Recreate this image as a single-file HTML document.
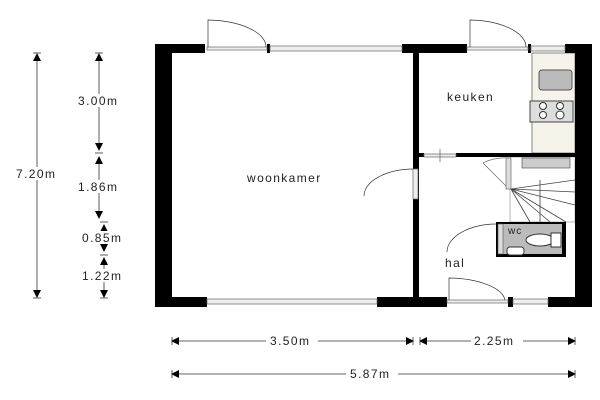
<!DOCTYPE html>
<html><head><meta charset="utf-8"><style>
html,body{margin:0;padding:0;background:#fff;width:600px;height:400px;overflow:hidden}
text{font-family:"Liberation Sans",sans-serif;font-size:12px;letter-spacing:1.4px;fill:#222}
</style></head><body>
<svg width="600" height="400" viewBox="0 0 600 400" xmlns="http://www.w3.org/2000/svg">
<defs>
<marker id="ae" markerWidth="8" markerHeight="8" refX="7" refY="4" orient="auto" markerUnits="userSpaceOnUse"><path d="M0,0 L8,4 L0,8 Z" fill="#000"/></marker>
<marker id="as" markerWidth="8" markerHeight="8" refX="1" refY="4" orient="auto" markerUnits="userSpaceOnUse"><path d="M8,0 L0,4 L8,8 Z" fill="#000"/></marker>
</defs>
<rect x="532" y="53" width="43" height="100" fill="#f6f3ea" stroke="#555" stroke-width="0.7"/>
<rect x="539" y="70" width="33" height="20" rx="3" fill="#bbb" stroke="#555"/>
<rect x="530" y="101" width="43" height="21" fill="#ddd" stroke="#444"/>
<circle cx="543" cy="106" r="3.5" fill="#fff" stroke="#333"/><circle cx="560" cy="106" r="3.5" fill="#fff" stroke="#333"/>
<circle cx="543" cy="115" r="3.5" fill="#fff" stroke="#333"/><circle cx="560" cy="115" r="4" fill="#fff" stroke="#333"/>
<rect x="510" y="157" width="65" height="65" fill="#fff" stroke="#888" stroke-width="0.6"/>
<rect x="522" y="158" width="48" height="10" fill="#ccc" stroke="#444" stroke-width="0.6"/>
<g stroke="#444" stroke-width="0.8">
<line x1="511" y1="189" x2="575" y2="180"/><line x1="511" y1="189" x2="575" y2="192"/><line x1="511" y1="189" x2="575" y2="205"/>
<line x1="511" y1="189" x2="566" y2="222"/><line x1="511" y1="189" x2="550" y2="222"/><line x1="511" y1="189" x2="530" y2="222"/>
<line x1="540" y1="180" x2="540" y2="222"/></g>
<path d="M483,163 L509,189 M483,163 Q495,157 509,158" fill="none" stroke="#555" stroke-width="0.6"/>
<rect x="506" y="158" width="5" height="31" fill="#ddd" stroke="#555" stroke-width="0.6"/>
<rect x="496" y="222" width="70" height="35" fill="#000"/>
<rect x="499" y="224" width="63" height="30" fill="#bbb"/>
<ellipse cx="540" cy="240" rx="14" ry="6" fill="#fff" stroke="#333"/>
<rect x="551" y="233" width="10" height="14" fill="#fff" stroke="#333"/>
<rect x="507" y="247" width="17" height="8" rx="3" fill="#fff" stroke="#333"/>
<rect x="498" y="224" width="5" height="30" fill="#ddd" stroke="#555" stroke-width="0.6"/>
<text x="508" y="234" style="font-size:10px;letter-spacing:1px">wc</text>
<g fill="#000">
<rect x="155" y="44" width="17" height="263"/>
<rect x="155" y="44" width="50" height="9"/>
<rect x="402" y="44" width="65" height="9"/>
<rect x="565" y="44" width="27" height="9"/>
<rect x="575" y="44" width="17" height="263"/>
<rect x="413" y="44" width="6" height="263"/>
<rect x="419" y="153" width="5" height="4"/>
<rect x="456" y="153" width="119" height="4"/>
<rect x="155" y="297" width="52" height="10"/>
<rect x="377" y="297" width="70" height="10"/>
<rect x="508" y="297" width="5" height="10"/>
<rect x="548" y="297" width="44" height="10"/>
<rect x="267" y="44" width="3" height="9"/>
<rect x="528" y="44" width="3" height="9"/>
</g>
<g fill="#eee" stroke="#666" stroke-width="0.7">
<rect x="270" y="46" width="132" height="5"/>
<rect x="531" y="46" width="34" height="5"/>
<rect x="207" y="299" width="170" height="5"/>
<rect x="513" y="299" width="35" height="5"/>
<rect x="424" y="154" width="32" height="3"/>
<rect x="207" y="47" width="60" height="3"/>
<rect x="467" y="47" width="61" height="3"/>
<rect x="447" y="300" width="61" height="3"/>
<rect x="413" y="169" width="5" height="30"/>
</g>
<line x1="440" y1="149" x2="440" y2="162" stroke="#444" stroke-width="0.6"/>
<g fill="none" stroke="#333" stroke-width="0.7">
<path d="M208,47 L208,20 A60,27 0 0 1 266,47"/>
<path d="M470,47 L470,20 A58,27 0 0 1 526,47"/>
<path d="M449,300 L449,278 A58,24 0 0 1 505,300"/>
<path d="M364,196 A50,27 0 0 1 413,169"/>
<path d="M447,252 A50,28 0 0 1 496,224"/>
</g>
<text x="247" y="182">woonkamer</text>
<text x="447" y="101">keuken</text>
<text x="445" y="267">hal</text>
<g stroke="#333" stroke-width="0.8">
<line x1="37" y1="54" x2="37" y2="297" marker-start="url(#as)" marker-end="url(#ae)"/>
<line x1="99" y1="54" x2="99" y2="150" marker-start="url(#as)" marker-end="url(#ae)"/>
<line x1="99" y1="157" x2="99" y2="218" marker-start="url(#as)" marker-end="url(#ae)"/>
<line x1="104" y1="225" x2="104" y2="251" marker-start="url(#as)" marker-end="url(#ae)"/>
<line x1="104" y1="258" x2="104" y2="297" marker-start="url(#as)" marker-end="url(#ae)"/>
<line x1="33" y1="53" x2="41" y2="53"/><line x1="33" y1="298" x2="41" y2="298"/>
<line x1="95" y1="53" x2="103" y2="53"/><line x1="95" y1="153" x2="103" y2="153"/>
<line x1="100" y1="222" x2="108" y2="222"/><line x1="100" y1="255" x2="108" y2="255"/><line x1="100" y1="298" x2="108" y2="298"/>
<line x1="172" y1="341" x2="413" y2="341" marker-start="url(#as)" marker-end="url(#ae)"/>
<line x1="420" y1="341" x2="575" y2="341" marker-start="url(#as)" marker-end="url(#ae)"/>
<line x1="172" y1="374" x2="575" y2="374" marker-start="url(#as)" marker-end="url(#ae)"/>
<line x1="172" y1="337" x2="172" y2="345"/><line x1="413" y1="337" x2="413" y2="345"/>
<line x1="420" y1="337" x2="420" y2="345"/><line x1="575" y1="337" x2="575" y2="345"/>
<line x1="172" y1="370" x2="172" y2="378"/><line x1="575" y1="370" x2="575" y2="378"/>
</g>
<g>
<rect x="14" y="167" width="47" height="13" fill="#fff"/><text x="16" y="178">7.20m</text>
<rect x="76" y="94" width="47" height="13" fill="#fff"/><text x="78" y="105">3.00m</text>
<rect x="76" y="180" width="47" height="13" fill="#fff"/><text x="78" y="191">1.86m</text>
<rect x="80" y="231" width="49" height="13" fill="#fff"/><text x="82" y="242">0.85m</text>
<rect x="80" y="269" width="49" height="13" fill="#fff"/><text x="82" y="280">1.22m</text>
<rect x="266" y="334" width="52" height="13" fill="#fff"/><text x="270" y="345">3.50m</text>
<rect x="471" y="334" width="52" height="13" fill="#fff"/><text x="474" y="345">2.25m</text>
<rect x="346" y="367" width="52" height="13" fill="#fff"/><text x="350" y="378">5.87m</text>
</g>
</svg>
</body></html>
